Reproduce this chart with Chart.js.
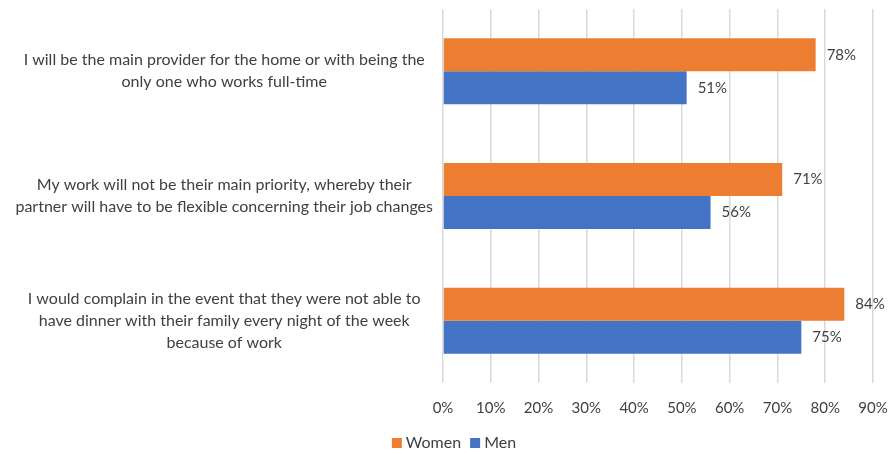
<!DOCTYPE html>
<html>
<head>
<meta charset="utf-8">
<script src="https://cdn.jsdelivr.net/npm/chart.js@4.4.1/dist/chart.umd.min.js"></script>
<style>
  html, body { margin: 0; padding: 0; background: #fff; }
  #wrap { width: 893px; height: 454px; position: relative; }
</style>
</head>
<body>
<div id="wrap"><canvas id="barChart"></canvas></div>
<script>
// statements, top to bottom
const categories = [
  ["I will be the main provider for the home or with being the", "only one who works full-time"],
  ["My work will not be their main priority, whereby their", "partner will have to be flexible concerning their job changes"],
  ["I would complain in the event that they were not able to", "have dinner with their family every night of the week", "because of work"]
];
const women = [78, 71, 84];
const men = [51, 56, 75];
const tickValues = [0, 10, 20, 30, 40, 50, 60, 70, 80, 90];

const textColor = '#404040';
const fontFamily = 'Lato, "Open Sans", sans-serif';

// writes "xx%" just right of each bar end
const valueLabels = {
  id: 'valueLabels',
  afterDatasetsDraw(chart) {
    const ctx = chart.ctx;
    ctx.save();
    ctx.font = '15px ' + fontFamily;
    ctx.fillStyle = textColor;
    ctx.textAlign = 'left';
    ctx.textBaseline = 'middle';
    chart.data.datasets.forEach((ds, i) => {
      chart.getDatasetMeta(i).data.forEach((bar, j) => {
        ctx.fillText(ds.data[j] + '%', bar.x + 11, bar.y);
      });
    });
    ctx.restore();
  }
};

// small square + name for each series, centred under the chart
const bottomLegend = {
  id: 'bottomLegend',
  afterDraw(chart) {
    const ctx = chart.ctx;
    const y = 443, box = 10, gap = 4, between = 9;
    ctx.save();
    ctx.font = '16px ' + fontFamily;
    ctx.textBaseline = 'middle';
    const items = chart.data.datasets.map(ds => ({
      text: ds.label, color: ds.backgroundColor, w: ctx.measureText(ds.label).width
    }));
    const total = items.reduce((s, it) => s + box + gap + it.w, 0) + between * (items.length - 1);
    let x = 454 - total / 2;
    items.forEach(it => {
      ctx.fillStyle = it.color;
      ctx.fillRect(x, y - box / 2, box, box);
      ctx.fillStyle = textColor;
      ctx.fillText(it.text, x + box + gap, y);
      x += box + gap + it.w + between;
    });
    ctx.restore();
  }
};

const ctx = document.getElementById('barChart').getContext('2d');
new Chart(ctx, {
  type: 'bar',
  data: {
    labels: categories,
    datasets: [
      { label: 'Women', data: women, backgroundColor: '#ED7D31' },
      { label: 'Men', data: men, backgroundColor: '#4472C4' }
    ]
  },
  options: {
    indexAxis: 'y',
    responsive: true,
    maintainAspectRatio: false,
    animation: false,
    categoryPercentage: 0.53,
    barPercentage: 1,
    layout: { padding: { top: 9, right: 20, left: 0, bottom: 21 } },
    plugins: {
      legend: { display: false },
      tooltip: { enabled: false }
    },
    scales: {
      x: {
        min: 0,
        max: 90,
        afterBuildTicks(axis) {
          axis.ticks = tickValues.map(v => ({ value: v }));
        },
        afterFit(axis) {
          axis.height = 50;
          axis.paddingLeft = 0;
          axis.paddingRight = 0;
        },
        grid: { color: '#D9D9D9', lineWidth: 1.5, drawTicks: false },
        border: { display: false },
        ticks: {
          padding: 16,
          color: textColor,
          font: { size: 15, family: fontFamily },
          callback: v => v + '%'
        }
      },
      y: {
        afterFit(axis) {
          axis.width = 443;
          axis.paddingTop = 0;
          axis.paddingBottom = 0;
        },
        grid: { display: false, drawTicks: false },
        border: { display: false },
        ticks: {
          padding: 10,
          crossAlign: 'center',
          color: textColor,
          font: { size: 16, family: fontFamily, lineHeight: 1.375 }
        }
      }
    }
  },
  plugins: [valueLabels, bottomLegend]
});
</script>
</body>
</html>
